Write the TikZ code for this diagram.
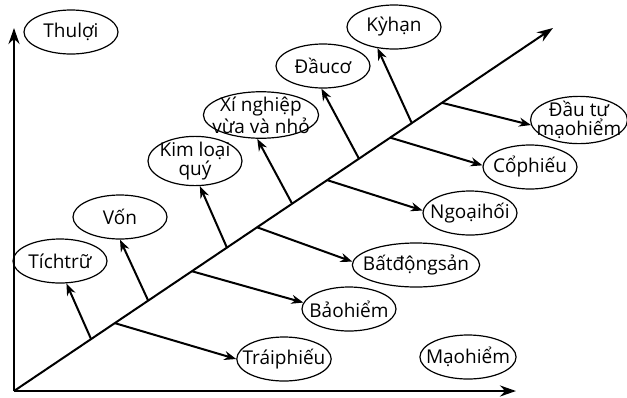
\documentclass[tikz,border=0pt]{standalone}
\usepackage{fontspec}
\setmainfont{Open Sans}
\usepackage{tikz}
\usetikzlibrary{shapes.geometric,arrows.meta}

\begin{document}
\begin{tikzpicture}[x=0.5pt,y=-0.5pt,
    oval/.style={draw, ellipse, line width=0.6pt, minimum width=47pt, minimum height=22pt,
        inner xsep=-4pt, inner ysep=-1pt, align=center, font=\fontsize{9.5}{8}\selectfont},
    branch/.style={-{Stealth[length=6pt,width=4.5pt]}, line width=1pt},
    axis/.style={-{Stealth[length=8pt,width=5.5pt]}, line width=1.3pt}]
    \useasboundingbox (0,0) rectangle (627,397);

    % axes
    \coordinate (o) at (14,391);
    \coordinate (ytop) at (14,28);
    \coordinate (xend) at (516,391);
    \draw[axis] (o) -- (ytop);
    \draw[axis] (o) -- (xend);

    % spine
    \coordinate (send) at (553,28);
    \draw[axis, line width=1pt] (o) -- (send)
        coordinate[pos=0.143] (u1) coordinate[pos=0.249] (u2)
        coordinate[pos=0.395] (u3) coordinate[pos=0.516] (u4)
        coordinate[pos=0.640] (u5) coordinate[pos=0.738] (u6)
        coordinate[pos=0.187] (d1) coordinate[pos=0.330] (d2)
        coordinate[pos=0.451] (d3) coordinate[pos=0.581] (d4)
        coordinate[pos=0.698] (d5) coordinate[pos=0.794] (d6);

    % nodes
    \node[oval] (thuloi) at (71,32) {Thulợi};
    \node[oval] (tichtru) at (60,261) {Tíchtrữ};
    \node[oval] (von) at (120,217) {Vốn};
    \node[oval] (kimloai) at (195,161) {Kim loại\\quý};
    \node[oval] (xinghiep) at (261,115) {Xí nghiệp\\vừa và nhỏ};
    \node[oval] (dauco) at (323,66) {Đầucơ};
    \node[oval] (kyhan) at (394,27) {Kỳhạn};
    \node[oval] (dautu) at (579,120) {Đầu tư\\mạohiểm};
    \node[oval] (cophieu) at (530,167) {Cổphiếu};
    \node[oval] (ngoaihoi) at (470,213) {Ngoạihối};
    \node[oval] (batdongsan) at (416,265) {Bấtđộngsản};
    \node[oval] (baohiem) at (349,309) {Bảohiểm};
    \node[oval] (traiphieu) at (284,359) {Tráiphiếu};
    \node[oval] (maohiem) at (468,357) {Mạohiểm};

    % branches up
    \draw[branch] (u1) -- (tichtru.286);
    \draw[branch] (u2) -- (von.270);
    \draw[branch] (u3) -- (kimloai.281);
    \draw[branch] (u4) -- (xinghiep.261);
    \draw[branch] (u5) -- (dauco.266);
    \draw[branch] (u6) -- (kyhan.232);

    % branches down
    \draw[branch] (d1) -- (traiphieu.180);
    \draw[branch] (d2) -- (baohiem.172);
    \draw[branch] (d3) -- (batdongsan.177);
    \draw[branch] (d4) -- (ngoaihoi.177);
    \draw[branch] (d5) -- (cophieu.178);
    \draw[branch] (d6) -- (dautu.186);
\end{tikzpicture}
\end{document}
